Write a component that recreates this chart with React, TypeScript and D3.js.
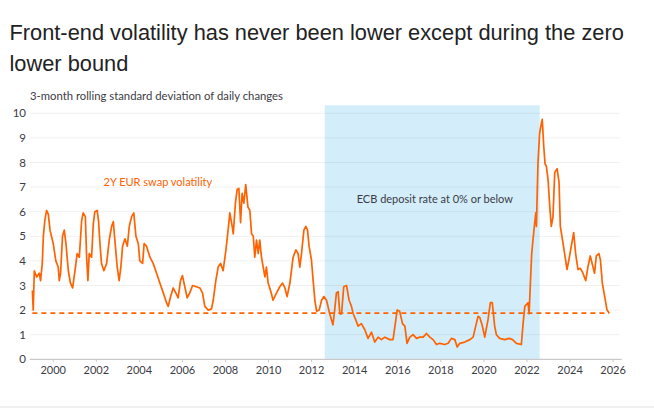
import * as d3 from 'd3'

// decimal years
const dates = [
  1999.03, 1999.07, 1999.12, 1999.23, 1999.35, 1999.41, 1999.49, 1999.54, 1999.61, 1999.69, 1999.77, 1999.85,
  2000.0, 2000.12, 2000.23, 2000.28, 2000.34, 2000.43, 2000.51, 2000.59, 2000.7, 2000.8, 2000.9,
  2001.01, 2001.11, 2001.21, 2001.32, 2001.39, 2001.49, 2001.55, 2001.61, 2001.67, 2001.78, 2001.86, 2001.93,
  2002.04, 2002.1, 2002.17, 2002.24, 2002.35, 2002.48, 2002.6, 2002.71, 2002.79, 2002.86, 2002.97,
  2003.06, 2003.14, 2003.22, 2003.33, 2003.44, 2003.53, 2003.64, 2003.74, 2003.84, 2003.95,
  2004.02, 2004.15, 2004.22, 2004.33, 2004.49, 2004.64, 2004.8, 2004.95,
  2005.11, 2005.26, 2005.34, 2005.45, 2005.57, 2005.69, 2005.8, 2005.91,
  2006.0, 2006.11, 2006.22, 2006.34, 2006.47, 2006.65, 2006.81, 2006.93,
  2007.04, 2007.2, 2007.35, 2007.43, 2007.55, 2007.66, 2007.77, 2007.89,
  2008.02, 2008.12, 2008.2, 2008.31, 2008.36, 2008.46, 2008.54, 2008.62, 2008.7, 2008.77, 2008.85, 2008.94,
  2009.04, 2009.13, 2009.21, 2009.29, 2009.36, 2009.44, 2009.52, 2009.59, 2009.67, 2009.75, 2009.83, 2009.9, 2009.98,
  2010.09, 2010.21, 2010.37, 2010.52, 2010.65, 2010.76, 2010.86, 2010.99,
  2011.14, 2011.27, 2011.37, 2011.45, 2011.53, 2011.64, 2011.73, 2011.81, 2011.88, 2011.99,
  2012.07, 2012.15, 2012.23, 2012.35, 2012.46, 2012.57, 2012.69, 2012.84, 2012.99,
  2013.07, 2013.15, 2013.23, 2013.31, 2013.39, 2013.49, 2013.62, 2013.74, 2013.85, 2013.93,
  2014.05, 2014.16, 2014.31, 2014.47, 2014.62, 2014.78, 2014.93,
  2015.09, 2015.24, 2015.4, 2015.63, 2015.78, 2015.91, 2015.97,
  2016.09, 2016.22, 2016.33, 2016.43, 2016.56, 2016.71, 2016.87,
  2017.02, 2017.18, 2017.33, 2017.49, 2017.64, 2017.8, 2017.95,
  2018.18, 2018.34, 2018.49, 2018.65, 2018.76, 2018.88,
  2019.11, 2019.35, 2019.5, 2019.62, 2019.73, 2019.81, 2019.93,
  2020.04, 2020.19, 2020.3, 2020.39, 2020.5, 2020.58, 2020.73, 2020.97,
  2021.17, 2021.33, 2021.51, 2021.74, 2021.82, 2021.9,
  2022.05, 2022.1, 2022.16, 2022.22, 2022.28, 2022.36, 2022.41, 2022.44, 2022.51, 2022.59, 2022.67, 2022.71,
  2022.78, 2022.84, 2022.9, 2022.98,
  2023.06, 2023.13, 2023.21, 2023.29, 2023.4, 2023.49, 2023.55, 2023.65, 2023.75, 2023.86, 2023.95,
  2024.06, 2024.17, 2024.26, 2024.37, 2024.48, 2024.6, 2024.73, 2024.83, 2024.94,
  2025.04, 2025.14, 2025.22, 2025.34, 2025.41, 2025.5, 2025.61, 2025.72, 2025.82,
]

// 2Y EUR swap volatility
const vol = [
  2.8, 2.0, 3.6, 3.35, 3.5, 3.2, 3.9, 5.0, 5.65, 6.05, 5.9, 5.25,
  4.7, 4.0, 3.75, 3.2, 3.5, 5.0, 5.25, 4.7, 3.6, 3.1, 2.9,
  3.6, 4.3, 4.15, 5.65, 5.95, 5.8, 4.15, 3.2, 4.3, 4.15, 5.5, 6.0,
  6.05, 5.65, 4.7, 3.9, 3.6, 3.9, 4.85, 5.4, 5.6, 4.85, 3.75,
  3.2, 3.75, 4.6, 4.9, 4.6, 5.4, 5.8, 5.95, 5.0, 4.7,
  4.0, 3.9, 4.7, 4.6, 4.15, 3.9, 3.5, 3.1,
  2.7, 2.3, 2.15, 2.55, 2.9, 2.7, 2.5, 3.2,
  3.4, 2.95, 2.5, 2.7, 3.0, 2.95, 2.9, 2.7,
  2.15, 2.0, 2.05, 2.4, 3.2, 3.75, 3.9, 3.6,
  4.45, 5.25, 5.95, 5.4, 5.1, 6.35, 6.9, 6.95, 5.55, 6.75, 6.35, 7.1,
  6.2, 6.05, 5.1, 5.0, 4.15, 4.85, 4.3, 4.85, 4.15, 3.75, 3.35, 3.75, 3.1,
  2.8, 2.4, 2.7, 2.95, 3.1, 2.9, 2.55, 3.1,
  4.15, 4.45, 4.3, 3.75, 4.3, 5.25, 5.4, 5.25, 4.6, 4.05,
  3.2, 2.4, 1.95, 2.0, 2.4, 2.55, 2.4, 1.85, 1.4,
  2.0, 2.7, 2.75, 1.85, 1.85, 2.95, 3.0, 2.4, 2.15, 1.85,
  1.6, 1.35, 1.45, 1.2, 0.85, 1.1, 0.7,
  0.9, 0.8, 0.9, 0.8, 0.8, 1.6, 2.0,
  1.95, 1.45, 1.35, 0.65, 0.9, 1.0, 0.85,
  0.9, 0.9, 1.05, 0.9, 0.8, 0.6, 0.65,
  0.6, 0.65, 0.85, 0.8, 0.5, 0.65,
  0.7, 0.8, 0.9, 1.35, 1.75, 1.7, 1.35,
  0.9, 1.6, 2.3, 2.3, 1.35, 1.0, 0.85, 0.8,
  0.85, 0.8, 0.65, 0.6, 1.45, 2.15,
  2.3, 1.85, 3.1, 4.3, 4.85, 5.55, 5.95, 5.4, 7.95, 9.2, 9.6, 9.75,
  8.65, 7.95, 7.85, 7.3,
  6.2, 5.4, 5.8, 7.6, 7.75, 7.2, 5.4, 4.85, 4.3, 3.65, 4.05,
  4.6, 5.15, 4.3, 3.65, 3.7, 3.5, 3.2, 3.75, 4.2,
  3.85, 3.5, 4.2, 4.3, 4.05, 3.1, 2.55, 2.0, 1.88,
]

const yTicks = [0, 1, 2, 3, 4, 5, 6, 7, 8, 9, 10]
const xTicks = [2000, 2002, 2004, 2006, 2008, 2010, 2012, 2014, 2016, 2018, 2020, 2022, 2024, 2026]
const currentLevel = 1.88
const zlbStart = 2012.61
const zlbEnd = 2022.59
const zlbTop = 10.33

const ORANGE = '#ff6200'
const TEXT = '#3b3b45'

export default function App() {
  const W = 654
  const H = 409
  const x = d3.scaleLinear().domain([1998.92, 2026.4]).range([30, 621.7])
  const y = d3.scaleLinear().domain([0, 10]).range([359.3, 113.3])

  const pts = dates.map((d, i) => [d, vol[i]] as [number, number])
  const line = d3.line<[number, number]>().x(d => x(d[0])).y(d => y(d[1]))

  const chartFont = 'Lato, "Noto Sans", sans-serif'

  return (
    <svg width={W} height={H} style={{ position: 'absolute', left: 0, top: 0, background: '#fff' }}>
      <g fontFamily='"Liberation Sans", Arial, sans-serif' fontSize={21.8} fill="#222">
        <text x={9.5} y={39.5}>Front-end volatility has never been lower except during the zero</text>
        <text x={9.5} y={71}>lower bound</text>
      </g>

      <text x={30} y={100} fontFamily={chartFont} fontSize={11.3} fill={TEXT}>
        3-month rolling standard deviation of daily changes
      </text>

      {/* ZLB shading */}
      <rect x={x(zlbStart)} y={y(zlbTop)} width={x(zlbEnd) - x(zlbStart)} height={y(0) - y(zlbTop)} fill="#d3eefa" />

      {/* grid */}
      {yTicks.filter(t => t > 0).map(t => (
        <line key={t} x1={x.range()[0]} x2={x.range()[1] - 2} y1={y(t)} y2={y(t)} stroke="#000" strokeOpacity={0.06} strokeWidth={1} />
      ))}

      {/* y labels */}
      {yTicks.map(t => (
        <text key={t} x={26} y={y(t)} dy="0.35em" textAnchor="end" fontFamily={chartFont} fontSize={11.5} fill={TEXT}>{t}</text>
      ))}

      {/* x axis */}
      <line x1={x.range()[0]} x2={x.range()[1]} y1={y(0)} y2={y(0)} stroke="#c9c9c9" strokeWidth={1.2} />
      {xTicks.map(t => (
        <g key={t}>
          <line x1={x(t)} x2={x(t)} y1={y(0)} y2={y(0) + 3} stroke="#c9c9c9" strokeWidth={1} />
          <text x={x(t)} y={y(0) + 15} textAnchor="middle" fontFamily={chartFont} fontSize={11} fill={TEXT}>{t}</text>
        </g>
      ))}

      {/* current level */}
      <line x1={x(dates[0])} x2={x(dates[dates.length - 1])} y1={y(currentLevel)} y2={y(currentLevel)}
        stroke={ORANGE} strokeWidth={1.8} strokeDasharray="5,4" />

      <path d={line(pts) ?? ''} fill="none" stroke={ORANGE} strokeWidth={1.7} strokeLinejoin="round" />

      <text x={x(2004.86)} y={y(7.04)} textAnchor="middle" fontFamily={chartFont} fontSize={11} fill={ORANGE}>
        2Y EUR swap volatility
      </text>
      <text x={x(2017.72)} y={y(6.36)} textAnchor="middle" fontFamily={chartFont} fontSize={11} fill={TEXT}>
        ECB deposit rate at 0% or below
      </text>

      <line x1={0} x2={W} y1={407} y2={407} stroke="#e2e2e2" strokeWidth={1} />
    </svg>
  )
}
